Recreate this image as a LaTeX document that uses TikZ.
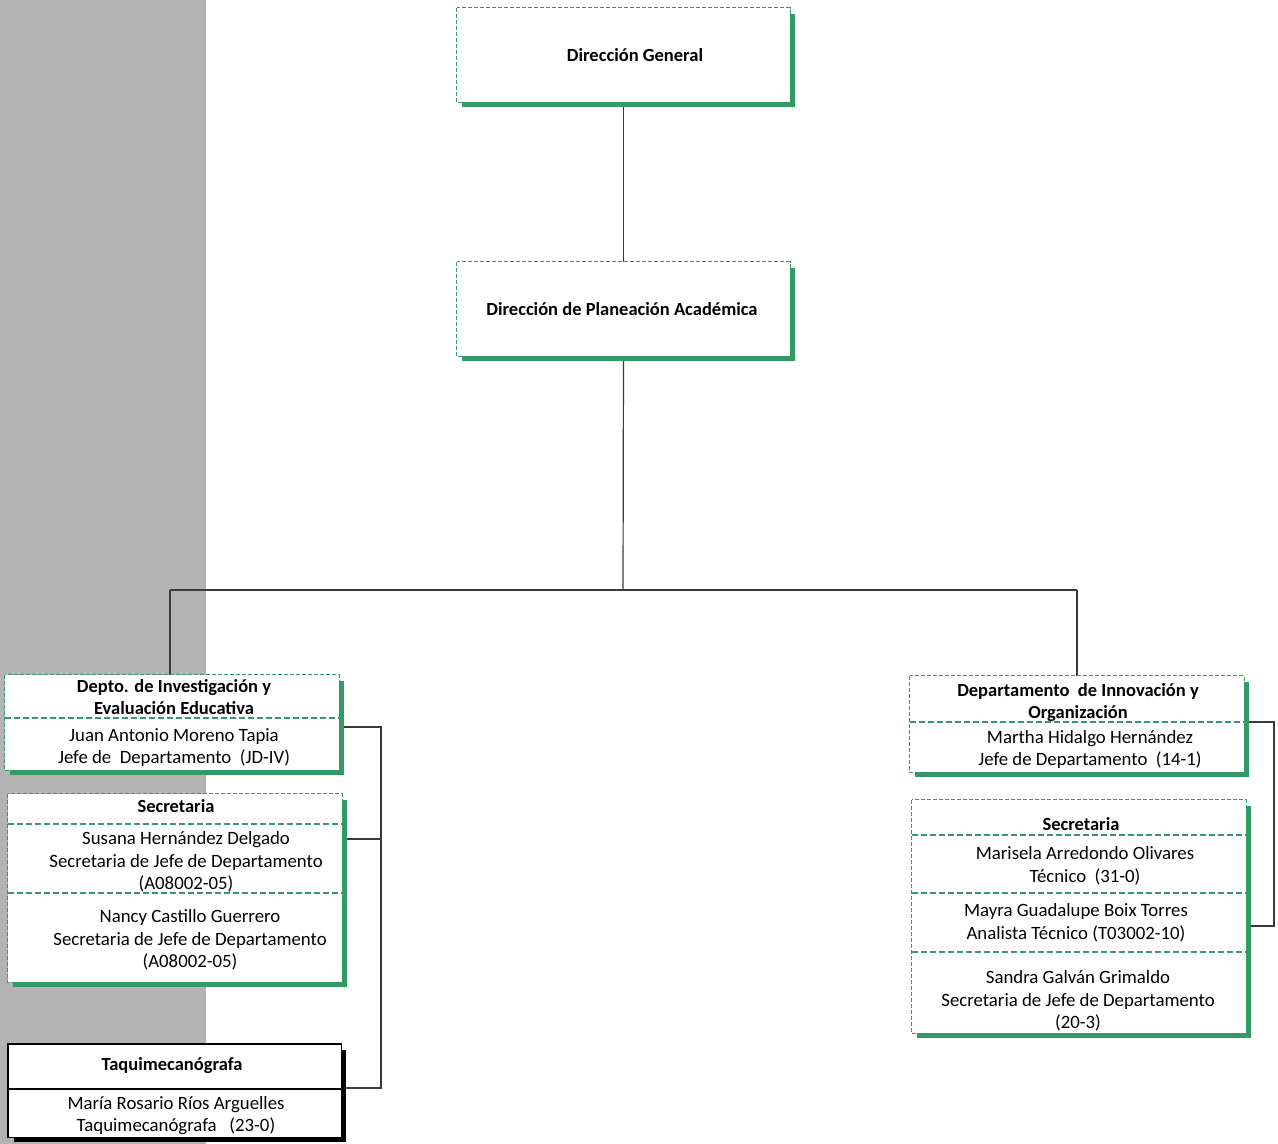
\documentclass[tikz,border=0pt]{standalone}
\usepackage{fontspec}
\setmainfont{Carlito}
\usetikzlibrary{calc}
\definecolor{grn}{HTML}{339966}
\definecolor{bgray}{HTML}{B3B3B3}
\definecolor{conn}{HTML}{3A3A3A}
\begin{document}
\begin{tikzpicture}[x=1pt,y=-1pt,
  gbox/.style={draw=grn, line width=1.1pt, dash pattern=on 4pt off 2pt, fill=white, rectangle, inner sep=0pt},
  kbox/.style={draw=black, line width=1.4pt, fill=white, rectangle, inner sep=0pt},
  gshadow/.style={draw=grn, line width=4.5pt, line cap=butt},
  kshadow/.style={draw=black, line width=5pt, line cap=butt},
  gdiv/.style={draw=grn, line width=1.3pt, dash pattern=on 6pt off 3pt},
  kdiv/.style={draw=black, line width=1.4pt},
  cline/.style={draw=conn, line width=1.2pt},
  title/.style={align=center, inner sep=0pt, font=\fontsize{18.5}{22}\selectfont\bfseries},
  body/.style={align=center, inner sep=0pt, font=\fontsize{18.8}{22.5}\selectfont}
]
\useasboundingbox (0,0) rectangle (1278,1144);
\fill[bgray] (0,0) rectangle (206,1144);

% box placeholders (for connectors), drawn later with shadows
\path (623.5,55) node[minimum width=333pt, minimum height=94pt, inner sep=0pt] (dg) {};
\path (623.5,309) node[minimum width=333pt, minimum height=94pt, inner sep=0pt] (dpa) {};
\path (172,722.5) node[minimum width=334pt, minimum height=95pt, inner sep=0pt] (ld) {};
\path (175,888) node[minimum width=334pt, minimum height=188pt, inner sep=0pt] (ls) {};
\path (174.5,1090.5) node[minimum width=333pt, minimum height=93pt, inner sep=0pt] (lt) {};
\path (1077,724) node[minimum width=334pt, minimum height=96pt, inner sep=0pt] (rd) {};
\path (1079,916.5) node[minimum width=334pt, minimum height=233pt, inner sep=0pt] (rs) {};

% connectors
\coordinate (j) at (623,590);
\coordinate (jl) at (170,590);
\coordinate (jr) at (1077,590);
\draw[cline] (dg.south) -- (dpa.north);
\draw[cline] (dpa.south) -- (j);
\draw[cline] (jl) -- (jr);
\draw[cline] (jl) -- (jl |- ld.north);
\draw[cline] (jr) -- (jr |- rd.north);
\coordinate (lb1) at (381,727);
\coordinate (lb2) at (381,1088);
\coordinate (lb3) at (381,839);
\draw[cline] (ld.east |- lb1) -- (lb1) -- (lb2) -- (lt.east |- lb2);
\draw[cline] (ls.east |- lb3) -- (lb3);
\coordinate (rb1) at (1274,722);
\coordinate (rb2) at (1274,926);
\draw[cline] (rd.east |- rb1) -- (rb1) -- (rb2) -- (rs.east |- rb2);

% shadows
\foreach \b in {dg,dpa,ld,ls,rd,rs}{
  \draw[gshadow] ($(\b.north east)+(2.2,6)$) -- ($(\b.south east)+(2.2,2.2)$) -- ($(\b.south west)+(5,2.2)$);
}
\draw[kshadow] ($(lt.north east)+(2.5,6)$) -- ($(lt.south east)+(2.5,2.5)$) -- ($(lt.south west)+(6,2.5)$);

% boxes
\foreach \b in {dg,dpa,ld,ls,rd,rs}{
  \draw[gbox] (\b.north west) rectangle (\b.south east);
}
\draw[kbox] (lt.north west) rectangle (lt.south east);

% dividers
\draw[gdiv] (ld.west |- 0,718) -- (ld.east |- 0,718);
\draw[gdiv] (ls.west |- 0,824) -- (ls.east |- 0,824);
\draw[gdiv] (ls.west |- 0,893) -- (ls.east |- 0,893);
\draw[kdiv] (lt.west |- 0,1089) -- (lt.east |- 0,1089);
\draw[gdiv] (rd.west |- 0,722) -- (rd.east |- 0,722);
\draw[gdiv] (rs.west |- 0,835) -- (rs.east |- 0,835);
\draw[gdiv] (rs.west |- 0,893) -- (rs.east |- 0,893);
\draw[gdiv] (rs.west |- 0,952) -- (rs.east |- 0,952);

% texts
\node[title] (t1) at (635,55.5) {Dirección General};
\node[title] (t2) at (622,309.5) {Dirección de Planeación Académica};
\node[title] (t3) at (174,697.5) {Depto. de Investigación y\\Evaluación Educativa};
\node[body] (t4) at (174,747.5) {Juan Antonio Moreno Tapia\\Jefe de~ Departamento~ (JD-IV)};
\node[title] (t5) at (176,806.5) {Secretaria};
\node[body] (t6) at (186,862) {Susana Hernández Delgado\\Secretaria de Jefe de Departamento\\(A08002-05)};
\node[body] (t7) at (190,940) {Nancy Castillo Guerrero\\Secretaria de Jefe de Departamento\\(A08002-05)};
\node[title] (t8) at (172,1066) {Taquimecanógrafa};
\node[body] (t9) at (176,1115.5) {María Rosario Ríos Arguelles\\Taquimecanógrafa~~ (23-0)};
\node[title] (t10) at (1078,702.5) {Departamento~ de Innovación y\\Organización};
\node[body] (t11) at (1090,749.5) {Martha Hidalgo Hernández\\Jefe de Departamento~ (14-1)};
\node[title] (t12) at (1081,824.5) {Secretaria};
\node[body] (t13) at (1085,866) {Marisela Arredondo Olivares\\Técnico~ (31-0)};
\node[body] (t14) at (1076,923) {Mayra Guadalupe Boix Torres\\Analista Técnico (T03002-10)};
\node[body] (t15) at (1078,1001) {Sandra Galván Grimaldo\\Secretaria de Jefe de Departamento\\(20-3)};
\end{tikzpicture}
\end{document}
